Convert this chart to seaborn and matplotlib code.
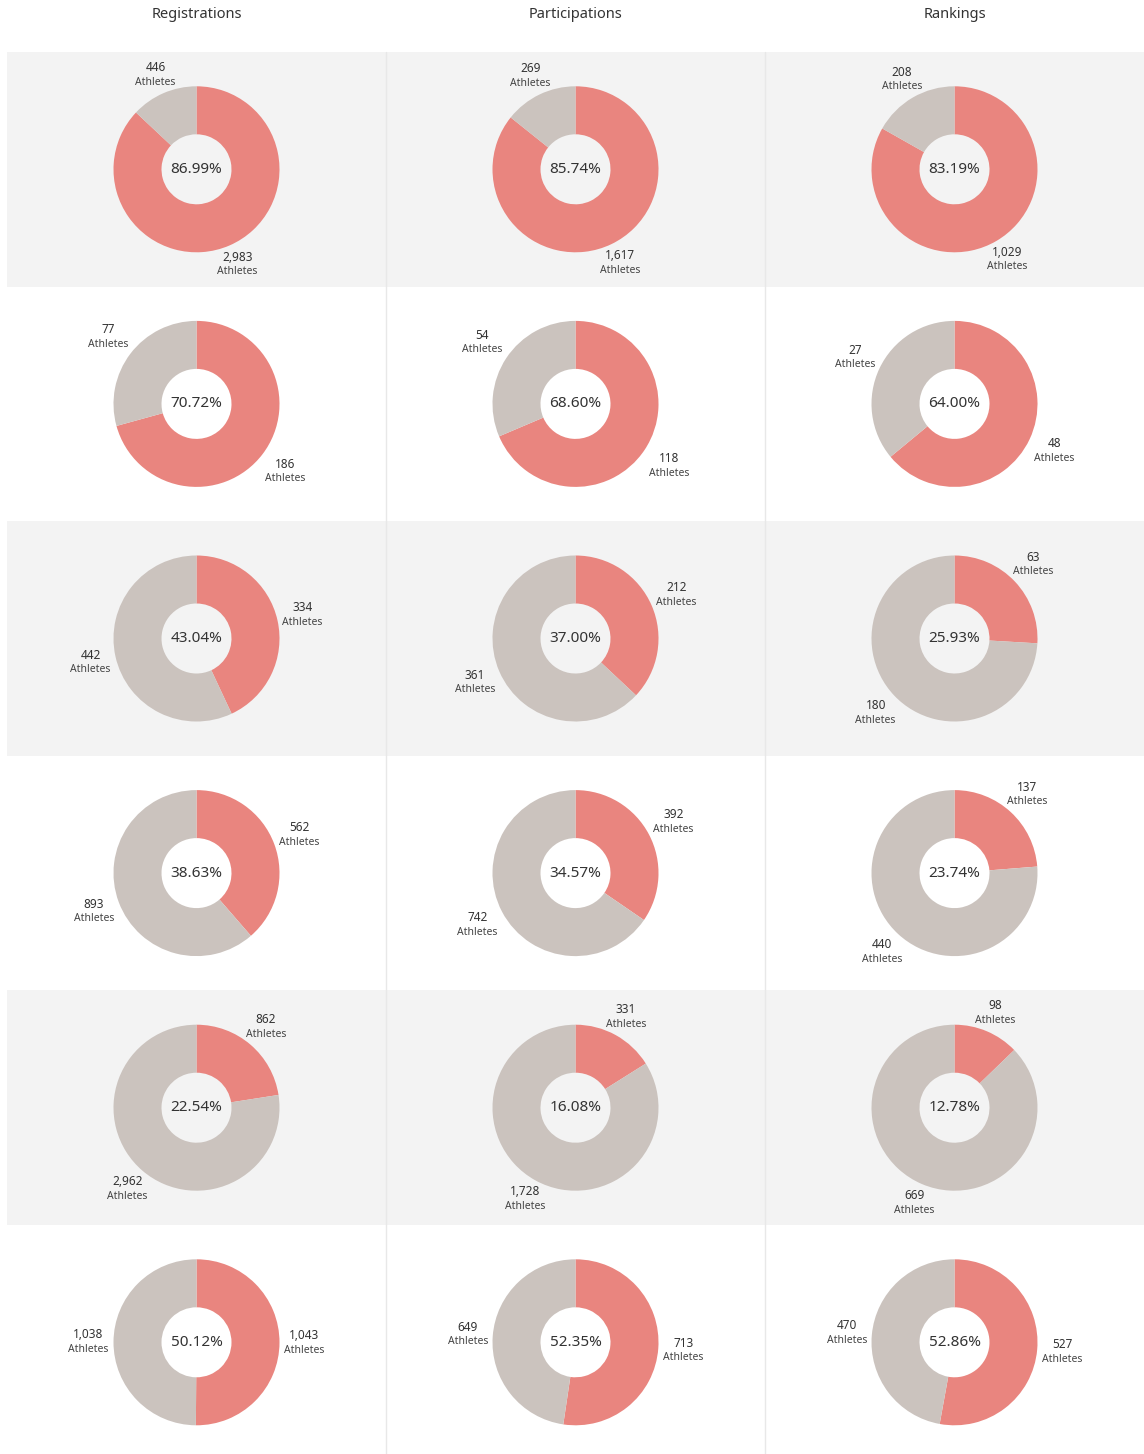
import numpy as np
import seaborn as sns
import matplotlib.pyplot as plt

# athletes per segment: (highlighted, rest) for each row
registrations_hit = [2983, 186, 334, 562, 862, 1043]
registrations_rest = [446, 77, 442, 893, 2962, 1038]
participations_hit = [1617, 118, 212, 392, 331, 713]
participations_rest = [269, 54, 361, 742, 1728, 649]
rankings_hit = [1029, 48, 63, 137, 98, 527]
rankings_rest = [208, 27, 180, 440, 669, 470]

columns = ['Registrations', 'Participations', 'Rankings']
hits = [registrations_hit, participations_hit, rankings_hit]
rests = [registrations_rest, participations_rest, rankings_rest]

sns.set_theme(style='white')
plt.rcParams['font.family'] = ['Noto Sans', 'DejaVu Sans']

RED = '#e9857f'
GREY = '#cbc3be'
BAND = '#f3f3f3'

W, H = 1144, 1454
fig = plt.figure(figsize=(W / 100, H / 100), dpi=100)
fig.patch.set_facecolor('white')

x0, y0 = 7, 52
cw = (W - x0) / 3
rh = 234.6
r_out, r_in = 83, 35
gap, hw, hh = 88, 20, 14   # label box keeps this distance from the centre

for c, name in enumerate(columns):
    cx = (x0 + cw * c + cw / 2) / W
    fig.text(cx, 1 - 14 / H, name, ha='center', va='center', fontsize=10.5, color='#333333')

    for r in range(6):
        left = x0 + cw * c
        top = y0 + rh * r
        ax = fig.add_axes([left / W, 1 - (top + rh) / H, cw / W, rh / H])
        a, b = hits[c][r], rests[c][r]
        ax.pie([a, b], colors=[RED, GREY], startangle=90, counterclock=False,
               radius=r_out, wedgeprops=dict(width=r_out - r_in, linewidth=0))
        ax.set_frame_on(True)
        for s in ax.spines.values():
            s.set_visible(False)
        ax.set_facecolor(BAND if r % 2 == 0 else 'white')
        ax.set_xlim(-cw / 2, cw / 2)
        ax.set_ylim(-rh / 2, rh / 2)
        ax.set_aspect('equal')

        pct = a / (a + b) * 100
        ax.text(0, 0, f'{pct:.2f}%', ha='center', va='center', fontsize=11, color='#333333')

        # labels at the middle of each wedge (angles clockwise from top)
        frac = a / (a + b)
        for val, mid in [(a, frac * 180), (b, frac * 360 + (1 - frac) * 180)]:
            th = np.deg2rad(mid)
            sx, sy = np.sin(th), np.cos(th)
            t = min(hw / max(abs(sx), 1e-6), hh / max(abs(sy), 1e-6))
            lx, ly = (gap + t) * sx, (gap + t) * sy
            ax.text(lx, ly + 7, f'{val:,}', ha='center', va='center', fontsize=8.5, color='#333333')
            ax.text(lx, ly - 7.5, 'Athletes', ha='center', va='center', fontsize=7.5, color='#444444')

# thin column separators
for c in (1, 2):
    xs = (x0 + cw * c) / W
    fig.add_artist(plt.Line2D([xs, xs], [0, 1 - y0 / H], color='#e8e8e8', linewidth=1))

fig.savefig('out.png', dpi=100)
